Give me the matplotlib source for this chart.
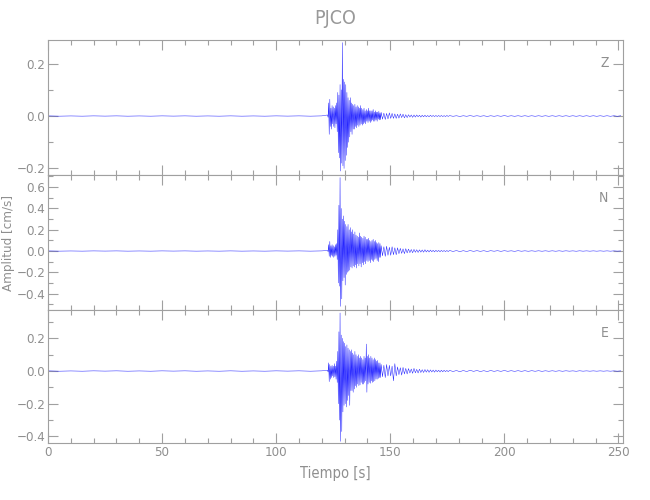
import numpy as np
import matplotlib.pyplot as plt
from matplotlib.ticker import MultipleLocator
from matplotlib import font_manager

names = {f.name for f in font_manager.fontManager.ttflist}
narrow = [n for n in ["Liberation Sans Narrow", "DejaVu Sans Condensed"] if n in names]
plt.rcParams['font.family'] = narrow + ['DejaVu Sans']
plt.rcParams['font.stretch'] = 'condensed'

station = "PJCO"
components = ["Z", "N", "E"]

# segments: (start time [s], sample step [s]) -> amplitude lists [cm/s]
seg_starts = [0.0, 122.5, 146.0, 176.0]
seg_steps = [5.0, 0.25, 0.6, 1.5]

z_pre = [0.0005, -0.0005, 0.0003, -0.0005, 0.0005, -0.0003, 0.0005, -0.0005, 0.0003, -0.0005,
         0.0005, -0.0003, 0.0005, -0.0005, 0.0003, -0.0005, 0.0005, -0.0005, 0.0003, -0.0005,
         0.0005, -0.0003, 0.0005, -0.0005, 0.0005]
z_main = [0.004, -0.005,
          0.05, -0.07, 0.064, -0.04, 0.03, -0.05, 0.04, -0.03,
          0.035, -0.04, 0.03, -0.045, 0.04, -0.03, 0.05, -0.06,
          0.09, -0.14, 0.08, -0.16,
          0.12, -0.21, 0.10, -0.18,
          0.28, -0.19, 0.14, -0.20,
          0.13, -0.17, 0.12, -0.15,
          0.09, -0.12, 0.07, -0.10,
          0.06, -0.08, 0.07, -0.06,
          0.05, -0.07, 0.045, -0.05,
          0.04, -0.05, 0.045, -0.04, 0.035, -0.045, 0.04, -0.035,
          0.035, -0.04, 0.03, -0.035, 0.04, -0.03, 0.03, -0.035,
          0.025, -0.03, 0.03, -0.025, 0.02, -0.03, 0.025, -0.02,
          0.02, -0.025, 0.03, -0.02, 0.02, -0.025, 0.02, -0.02,
          0.02, -0.015, 0.025, -0.02, 0.015, -0.02, 0.02, -0.015,
          0.015, -0.02, 0.015, -0.012, 0.018, -0.015, 0.012, -0.014]
z_coda = [0.014, -0.012, 0.011, -0.013, 0.010, -0.011, 0.012, -0.009, 0.010, -0.009,
          0.008, -0.009, 0.007, -0.008, 0.008, -0.006, 0.007, -0.007, 0.005, -0.006,
          0.005, -0.004, 0.004, -0.005, 0.004, -0.004, 0.004, -0.003, 0.003, -0.004,
          0.003, -0.003, 0.003, -0.003, 0.002, -0.003, 0.003, -0.002, 0.002, -0.002,
          0.002, -0.002, 0.002, -0.002, 0.002, -0.002, 0.0015, -0.002, 0.002, -0.0015]
z_tail = [0.0015, -0.001, 0.001, -0.0015, 0.001, -0.001, 0.0015, -0.001, 0.001, -0.001,
          0.001, -0.0015, 0.001, -0.001, 0.001, -0.001, 0.0015, -0.001, 0.001, -0.001,
          0.001, -0.001, 0.001, -0.001, 0.001, -0.001, 0.001, -0.001, 0.001, -0.001,
          0.001, -0.001, 0.001, -0.001, 0.001, -0.001, 0.001, -0.001, 0.001, -0.001,
          0.001, -0.001, 0.001, -0.001, 0.001, -0.001, 0.001, -0.001, 0.001, -0.001, 0.001]

n_pre = [0.001, -0.001, 0.0005, -0.001, 0.001, -0.0005, 0.001, -0.001, 0.0005, -0.001,
         0.001, -0.0005, 0.001, -0.001, 0.0005, -0.001, 0.001, -0.001, 0.0005, -0.001,
         0.001, -0.0005, 0.001, -0.001, 0.001]
n_main = [0.005, -0.006,
          0.06, -0.05, 0.09, -0.06, 0.05, -0.04, 0.06, -0.05,
          0.05, -0.06, 0.04, -0.05, 0.06, -0.04, 0.07, -0.08,
          0.20, -0.30, 0.43, -0.33,
          0.69, -0.52, 0.40, -0.45,
          0.30, -0.28, 0.33, -0.25,
          0.28, -0.32, 0.25, -0.22,
          0.23, -0.20, 0.25, -0.19,
          0.20, -0.18, 0.22, -0.15,
          0.18, -0.16, 0.20, -0.14,
          0.16, -0.15, 0.18, -0.13, 0.15, -0.16, 0.14, -0.12,
          0.13, -0.14, 0.17, -0.12, 0.14, -0.15, 0.13, -0.11,
          0.12, -0.13, 0.14, -0.10, 0.13, -0.12, 0.11, -0.09,
          0.11, -0.10, 0.12, -0.09, 0.10, -0.11, 0.09, -0.08,
          0.10, -0.09, 0.11, -0.10, 0.09, -0.08, 0.10, -0.07,
          0.08, -0.09, 0.07, -0.10, 0.08, -0.06, 0.07, -0.06]
n_coda = [0.05, -0.045, 0.04, -0.05, 0.045, -0.04, 0.035, -0.04, 0.04, -0.035,
          0.03, -0.035, 0.03, -0.025, 0.025, -0.022, 0.02, -0.025, 0.022, -0.018,
          0.018, -0.015, 0.014, -0.016, 0.015, -0.012, 0.012, -0.013, 0.011, -0.010,
          0.010, -0.011, 0.012, -0.009, 0.008, -0.009, 0.009, -0.007, 0.007, -0.008,
          0.007, -0.006, 0.006, -0.007, 0.006, -0.005, 0.005, -0.006, 0.005, -0.005]
n_tail = [0.005, -0.004, 0.004, -0.005, 0.003, -0.004, 0.004, -0.003, 0.003, -0.003,
          0.003, -0.004, 0.003, -0.002, 0.003, -0.003, 0.003, -0.002, 0.002, -0.003,
          0.003, -0.002, 0.002, -0.002, 0.002, -0.002, 0.002, -0.002, 0.002, -0.002,
          0.002, -0.002, 0.002, -0.002, 0.002, -0.0015, 0.0015, -0.002, 0.002, -0.0015,
          0.0015, -0.0015, 0.0015, -0.0015, 0.0015, -0.0015, 0.0015, -0.0015, 0.0015, -0.001, 0.001]

e_pre = [0.001, -0.001, 0.0005, -0.001, 0.001, -0.0005, 0.001, -0.001, 0.0005, -0.001,
         0.001, -0.0005, 0.001, -0.001, 0.0005, -0.001, 0.001, -0.001, 0.0005, -0.001,
         0.001, -0.0005, 0.001, -0.001, 0.001]
e_main = [0.005, -0.006,
          0.05, -0.065, 0.04, -0.05, 0.03, -0.04, 0.035, -0.03,
          0.03, -0.04, 0.045, -0.035, 0.03, -0.05, 0.06, -0.07,
          0.12, -0.20, 0.24, -0.30,
          0.355, -0.43, 0.22, -0.37,
          0.20, -0.25, 0.18, -0.21,
          0.17, -0.20, 0.15, -0.22,
          0.16, -0.18, 0.14, -0.15,
          0.13, -0.21, 0.12, -0.12,
          0.13, -0.12, 0.11, -0.13,
          0.10, -0.11, 0.12, -0.09, 0.10, -0.10, 0.09, -0.08,
          0.10, -0.09, 0.08, -0.085, 0.09, -0.07, 0.08, -0.08,
          0.07, -0.08, 0.09, -0.07, 0.08, -0.06, 0.165, -0.13,
          0.09, -0.08, 0.10, -0.07, 0.08, -0.075, 0.09, -0.06,
          0.08, -0.07, 0.07, -0.065, 0.08, -0.06, 0.07, -0.05,
          0.06, -0.05, 0.065, -0.045, 0.05, -0.04, 0.05, -0.04]
e_coda = [0.04, -0.035, 0.035, -0.04, 0.04, -0.03, 0.035, -0.03, 0.03, -0.06,
          0.045, -0.03, 0.025, -0.022, 0.02, -0.025, 0.022, -0.018, 0.016, -0.018,
          0.015, -0.012, 0.012, -0.014, 0.016, -0.011, 0.010, -0.012, 0.011, -0.009,
          0.008, -0.009, 0.009, -0.007, 0.008, -0.008, 0.007, -0.006, 0.006, -0.007,
          0.006, -0.005, 0.005, -0.006, 0.005, -0.005, 0.005, -0.004, 0.004, -0.004]
e_tail = [0.004, -0.003, 0.003, -0.004, 0.003, -0.003, 0.004, -0.002, 0.003, -0.003,
          0.002, -0.003, 0.003, -0.002, 0.002, -0.002, 0.003, -0.002, 0.002, -0.002,
          0.002, -0.002, 0.002, -0.002, 0.002, -0.0015, 0.002, -0.002, 0.0015, -0.0015,
          0.0015, -0.0015, 0.0015, -0.0015, 0.0015, -0.001, 0.001, -0.0015, 0.0015, -0.001,
          0.001, -0.001, 0.001, -0.001, 0.001, -0.001, 0.001, -0.001, 0.001, -0.001, 0.001]

traces = {
    "Z": [z_pre, z_main, z_coda, z_tail],
    "N": [n_pre, n_main, n_coda, n_tail],
    "E": [e_pre, e_main, e_coda, e_tail],
}
ylims = {"Z": (-0.225, 0.29), "N": (-0.554, 0.714), "E": (-0.44, 0.373)}
yticks = {"Z": [-0.2, 0.0, 0.2],
          "N": [-0.4, -0.2, 0.0, 0.2, 0.4, 0.6],
          "E": [-0.4, -0.2, 0.0, 0.2]}
xmax = 252.0

gray = "#8f8f8f"
line_gray = "#a0a0a0"


def build_trace(segments):
    t_all, a_all = [], []
    for t0, dt, vals in zip(seg_starts, seg_steps, segments):
        t_all.append(t0 + dt * np.arange(len(vals)))
        a_all.append(np.asarray(vals))
    return np.concatenate(t_all), np.concatenate(a_all)


fig = plt.figure(figsize=(6.5, 5), dpi=100)
left, right = 48 / 650, 623 / 650
tops = [40, 175, 310]
bots = [175, 310, 443]

axes = []
for i, comp in enumerate(components):
    y0 = 1 - bots[i] / 500
    h = (bots[i] - tops[i]) / 500
    ax = fig.add_axes([left, y0, right - left, h])
    t, a = build_trace(traces[comp])
    ax.plot(t, a, color="#2020ff", lw=0.35)
    ax.set_xlim(0, xmax)
    ax.set_ylim(*ylims[comp])
    ax.xaxis.set_major_locator(MultipleLocator(50))
    ax.xaxis.set_minor_locator(MultipleLocator(10))
    ticks = yticks[comp]
    ax.set_yticks(ticks, [f"{v:.1f}".replace("-", "\u2212") for v in ticks])
    ax.yaxis.set_minor_locator(MultipleLocator(0.1))
    ax.tick_params(which="both", direction="in", top=True, right=True,
                   color=line_gray, labelcolor=gray, labelsize=9.5, width=0.8, pad=2)
    ax.tick_params(which="major", length=7)
    ax.tick_params(which="minor", length=3.5)
    for s in ax.spines.values():
        s.set_color(line_gray)
        s.set_linewidth(0.8)
    if i < 2:
        ax.tick_params(labelbottom=False)
    ax.text(0.975, 0.83, comp, transform=ax.transAxes, color=gray,
            fontsize=10, ha="right", va="center")
    axes.append(ax)

axes[-1].set_xlabel("Tiempo [s]", color=gray, fontsize=10.5, labelpad=5)
fig.text(9 / 650, 1 - 243 / 500, "Amplitud [cm/s]", rotation=90, color=gray,
         fontsize=9.5, ha="center", va="center")
fig.text((left + right) / 2, 1 - 18 / 500, station, color="#999999", fontsize=14,
         ha="center", va="center")

fig.savefig("out.png", dpi=100)
